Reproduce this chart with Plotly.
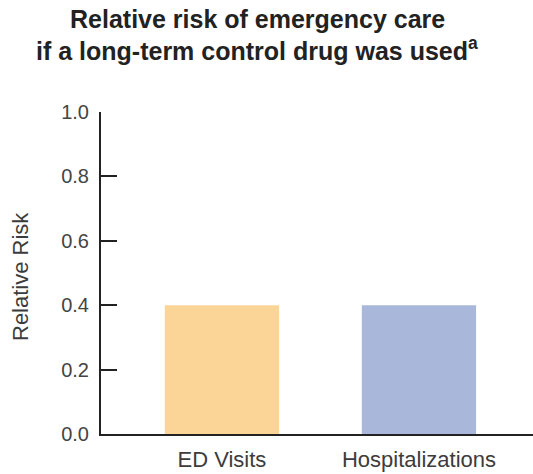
import plotly.graph_objects as go

categories = ["ED Visits", "Hospitalizations"]
relative_risk = [0.4, 0.4]
bar_colors = ["#FBD498", "#A9B7DA"]
y_ticks = [0.0, 0.2, 0.4, 0.6, 0.8, 1.0]
y_tick_labels = ["0.0", "0.2", "0.4", "0.6", "0.8", "1.0"]
title_lines = ["Relative risk of emergency care", "if a long-term control drug was used<sup>a</sup>"]

fig = go.Figure(
    go.Bar(
        x=[0, 1],
        y=relative_risk,
        width=0.58,
        marker=dict(color=bar_colors, line=dict(width=0)),
        hoverinfo="skip",
    )
)

axis_color = "#222222"
base_family = "Liberation Sans, Arial, sans-serif"
tick_font = dict(family=base_family, size=20, color="#444444")
cat_font = dict(family=base_family, size=22, color="#3c3c3c")

# Plot area spans pixels 101..533 horizontally and 112..434 vertically.
PLOT_L, PLOT_W, PLOT_B, PLOT_H = 101, 432, 434, 322


def px_x(px):
    return (px - PLOT_L) / PLOT_W


def px_y(py):
    return (PLOT_B - py) / PLOT_H


annotations = []
for text, py in zip(title_lines, [19, 49]):
    annotations.append(dict(
        text=text, xref="paper", yref="paper", x=px_x(257), y=px_y(py),
        xanchor="center", yanchor="middle", showarrow=False,
        font=dict(family=base_family, size=25, color="#222222", weight="bold"),
    ))
annotations.append(dict(
    text="Relative Risk", xref="paper", yref="paper", x=px_x(20), y=px_y(277),
    xanchor="center", yanchor="middle", showarrow=False, textangle=-90,
    font=cat_font,
))

fig.update_layout(
    width=533,
    height=474,
    margin=dict(l=PLOT_L, r=0, t=112, b=40),
    paper_bgcolor="white",
    plot_bgcolor="white",
    showlegend=False,
    annotations=annotations,
    xaxis=dict(
        range=[-0.614, 1.579],
        tickmode="array",
        tickvals=[0, 1],
        ticktext=categories,
        ticks="",
        showgrid=False,
        zeroline=False,
        showline=True,
        linecolor=axis_color,
        linewidth=2,
        tickfont=cat_font,
        ticklabelstandoff=5,
    ),
    yaxis=dict(
        range=[0, 1],
        tickmode="array",
        tickvals=y_ticks,
        ticktext=y_tick_labels,
        ticks="inside",
        ticklen=16,
        tickwidth=2,
        tickcolor=axis_color,
        showgrid=False,
        zeroline=False,
        showline=True,
        linecolor=axis_color,
        linewidth=2,
        tickfont=tick_font,
        ticklabelstandoff=6,
    ),
)

fig.write_html("out.html")
